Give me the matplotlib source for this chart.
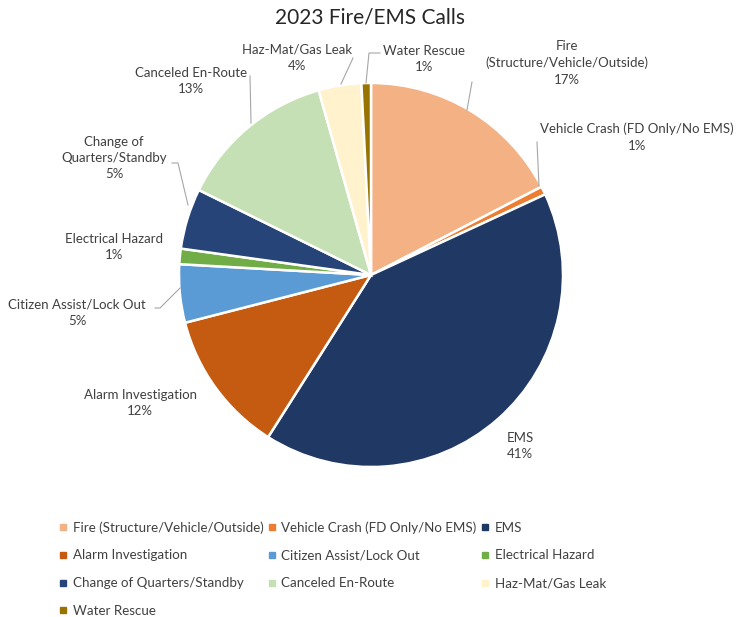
import matplotlib
matplotlib.use('Agg')
import matplotlib.pyplot as plt
from matplotlib.lines import Line2D

plt.rcParams['font.family'] = ['Lato', 'DejaVu Sans']

categories = ['Fire (Structure/Vehicle/Outside)', 'Vehicle Crash (FD Only/No EMS)', 'EMS',
              'Alarm Investigation', 'Citizen Assist/Lock Out', 'Electrical Hazard',
              'Change of Quarters/Standby', 'Canceled En-Route', 'Haz-Mat/Gas Leak',
              'Water Rescue']
pct = [17.4, 0.7, 40.9, 12.0, 4.9, 1.3, 5.1, 13.3, 3.6, 0.8]
pie_labels = ['Fire\n(Structure/Vehicle/Outside)', 'Vehicle Crash (FD Only/No EMS)', 'EMS',
              'Alarm Investigation', 'Citizen Assist/Lock Out', 'Electrical Hazard',
              'Change of\nQuarters/Standby', 'Canceled En-Route', 'Haz-Mat/Gas Leak',
              'Water Rescue']
colors = ['#F4B183', '#ED7D31', '#1F3864', '#C55A11', '#5B9BD5', '#70AD47',
          '#264478', '#C5E0B4', '#FFF2CC', '#997300']

W, H = 736, 617
fig = plt.figure(figsize=(W / 100, H / 100), dpi=100)
ax = fig.add_axes([0, 0, 1, 1])

def Y(py):
    return H - py

wedges, _ = ax.pie(pct, colors=colors, startangle=90, counterclock=False,
                   center=(371, Y(275)), radius=192,
                   wedgeprops=dict(edgecolor='white', linewidth=1.8))
ax.set_xlim(0, W)
ax.set_ylim(0, H)
ax.set_aspect('auto')
ax.axis('off')

ax.text(370, Y(18), '2023 Fire/EMS Calls', ha='center', va='center', fontsize=15, color='#262626')

# label centres (pixels) for each slice
lab_pos = [(567, 63), (637, 137), (520, 446), (140, 403), (77, 313), (114, 247),
           (114, 158), (191, 81), (297, 58), (424, 59)]
for lab, p, (x, y) in zip(pie_labels, pct, lab_pos):
    ax.text(x, Y(y), f'{lab}\n{round(p)}%', ha='center', va='center', fontsize=9.5,
            color='#404040', linespacing=1.45)

# leader lines
leaders = [
    [(467, 110), (472, 82)],
    [(539, 186), (537, 142)],
    [(155, 308), (160, 308), (180, 288)],
    [(172, 163), (178, 163), (188, 205)],
    [(251, 123), (250, 76)],
    [(341, 84), (353, 58)],
    [(366, 83), (369, 53), (380, 53)],
]
for pts in leaders:
    xs = [p[0] for p in pts]
    ys = [Y(p[1]) for p in pts]
    ax.plot(xs, ys, color='#A6A6A6', lw=0.8)

order = [0, 3, 6, 9, 1, 4, 7, 2, 5, 8]
handles = [Line2D([], [], ls='', marker='s', markersize=4.5, color=colors[i]) for i in order]
ax.legend(handles, [categories[i] for i in order], ncol=3, loc='upper left',
          bbox_to_anchor=(60 / W, 1 - 521 / H), frameon=False, fontsize=9.6,
          borderpad=0, borderaxespad=0,
          handlelength=0.5, handletextpad=0.45, labelspacing=1.19, columnspacing=0.4,
          labelcolor='#404040')

fig.savefig('out.png', dpi=100)
